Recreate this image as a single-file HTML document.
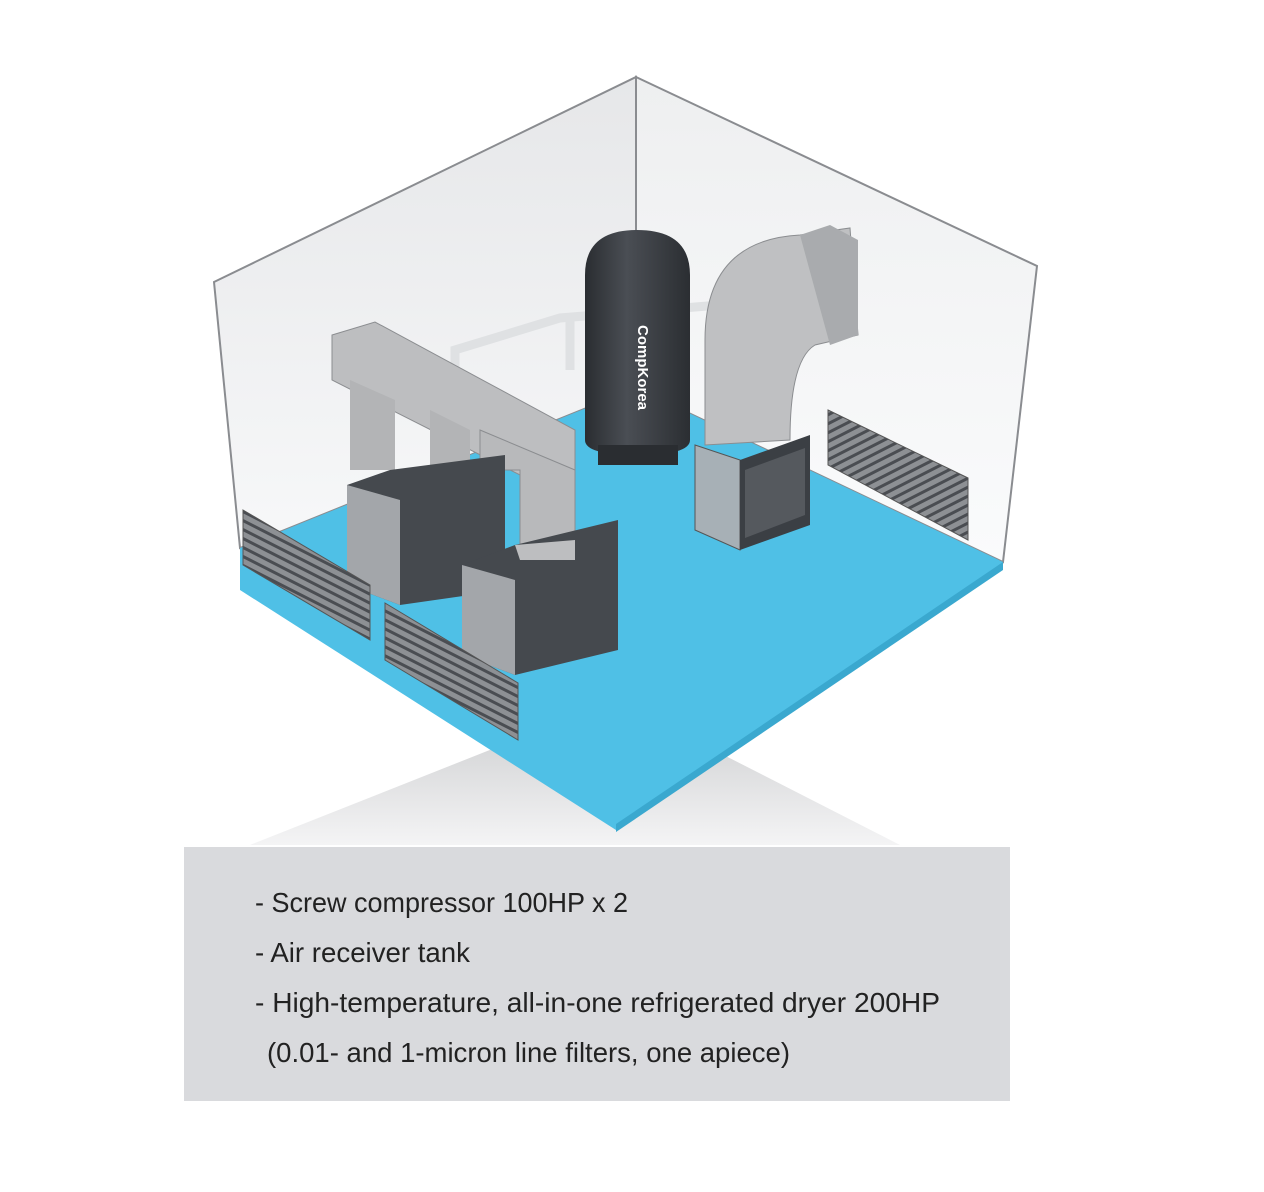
<!DOCTYPE html>
<html><head><meta charset="utf-8"><style>
html,body{margin:0;padding:0;background:#fff;width:1264px;height:1192px;overflow:hidden}
svg{display:block}
</style></head><body>
<svg width="1264" height="1192" viewBox="0 0 1264 1192" xmlns="http://www.w3.org/2000/svg">
<defs>
<linearGradient id="sh" x1="0" y1="0" x2="0" y2="1"><stop offset="0" stop-color="#c9cacc"/><stop offset="1" stop-color="#f4f4f5"/></linearGradient>
<linearGradient id="lw" x1="0" y1="0" x2="0" y2="1"><stop offset="0" stop-color="#e6e7e9"/><stop offset="1" stop-color="#f7f8f9"/></linearGradient>
<linearGradient id="rw" x1="0" y1="0" x2="0" y2="1"><stop offset="0" stop-color="#eeeff0"/><stop offset="1" stop-color="#fafbfc"/></linearGradient>
<linearGradient id="tank" x1="0" y1="0" x2="1" y2="0"><stop offset="0" stop-color="#2a2d31"/><stop offset="0.4" stop-color="#4a4e54"/><stop offset="1" stop-color="#2b2e32"/></linearGradient>
<pattern id="lv" width="8" height="8" patternUnits="userSpaceOnUse" patternTransform="rotate(27)"><rect width="8" height="8" fill="#8d9094"/><rect width="8" height="3" fill="#4a4d52"/></pattern>
<pattern id="lv2" width="8" height="8" patternUnits="userSpaceOnUse" patternTransform="rotate(-27)"><rect width="8" height="8" fill="#8d9094"/><rect width="8" height="3" fill="#4a4d52"/></pattern>
</defs>
<polygon points="250,845 616,700 900,845" fill="url(#sh)"/>
<polygon points="214,282 636,77 636,388 240,548" fill="url(#lw)" stroke="#8a8c90" stroke-width="2"/>
<polygon points="636,77 1037,266 1003,562 636,388" fill="url(#rw)" stroke="#8a8c90" stroke-width="2"/>
<polygon points="240,548 636,388 1003,562 1003,568 616,830 240,590" fill="#4fc0e6"/>
<polygon points="1003,562 1003,570 616,832 616,824" fill="#3aa8cf"/>
<path d="M455,375 L455,350 L560,318 L720,305" stroke="#dfe1e3" stroke-width="9" fill="none"/>
<path d="M570,318 L570,370" stroke="#dfe1e3" stroke-width="9" fill="none"/>
<path d="M585,275 Q585,230 637,230 Q690,230 690,275 L690,440 Q690,455 637,455 Q585,455 585,440 Z" fill="url(#tank)"/>
<rect x="598" y="445" width="80" height="20" fill="#2a2d31"/>
<text x="0" y="0" transform="translate(638,325) rotate(90)" font-family="Liberation Sans,sans-serif" font-size="15" font-weight="bold" fill="#fff">CompKorea</text>
<path d="M705,445 L705,340 Q705,240 800,235 L850,228 L858,335 L815,345 Q790,360 790,440 Z" fill="#bfc0c2" stroke="#8b8d90"/>
<polygon points="800,235 830,225 858,240 858,335 830,345" fill="#a9abae"/>
<polygon points="695,445 740,460 740,550 695,530" fill="#a7b0b6" stroke="#555"/>
<polygon points="740,460 810,435 810,525 740,550" fill="#3b3f44"/>
<polygon points="745,470 805,448 805,515 745,538" fill="#55595e"/>
<polygon points="828,410 968,478 968,540 828,465" fill="url(#lv2)" stroke="#555"/>
<!-- left ducts -->
<polygon points="332,335 375,322 575,430 575,475 530,480 332,380" fill="#bdbec0" stroke="#8b8d90"/>
<polygon points="350,380 395,400 395,470 350,470" fill="#b3b4b6"/>
<polygon points="430,410 470,430 470,470 430,470" fill="#b3b4b6"/>
<polygon points="480,430 575,470 575,555 520,560 520,470 480,470" fill="#b8b9bb" stroke="#8b8d90"/>
<polygon points="347,485 390,470 505,455 505,590 400,605 347,585" fill="#45494e"/>
<polygon points="347,485 400,500 400,605 347,585" fill="#a3a6aa"/>
<polygon points="462,565 515,545 618,520 618,650 515,675 462,655" fill="#45494e"/>
<polygon points="462,565 515,580 515,675 462,655" fill="#a3a6aa"/>
<polygon points="515,545 575,540 575,560 520,560" fill="#bdbec0"/>
<polygon points="243,510 370,585 370,640 243,565" fill="url(#lv)" stroke="#555"/>
<polygon points="385,603 518,683 518,740 385,660" fill="url(#lv)" stroke="#555"/>
<rect x="184" y="847" width="826" height="254" fill="#d9dadd"/>
<g font-family="Liberation Sans Narrow,Liberation Sans,sans-serif" font-size="28" fill="#222">
<text x="255" y="912" textLength="373" lengthAdjust="spacingAndGlyphs">- Screw compressor 100HP x 2</text>
<text x="255" y="962" textLength="215" lengthAdjust="spacingAndGlyphs">- Air receiver tank</text>
<text x="255" y="1012" textLength="685" lengthAdjust="spacingAndGlyphs">- High-temperature, all-in-one refrigerated dryer 200HP</text>
<text x="267" y="1062" textLength="523" lengthAdjust="spacingAndGlyphs">(0.01- and 1-micron line filters, one apiece)</text>
</g>
</svg>
</body></html>
